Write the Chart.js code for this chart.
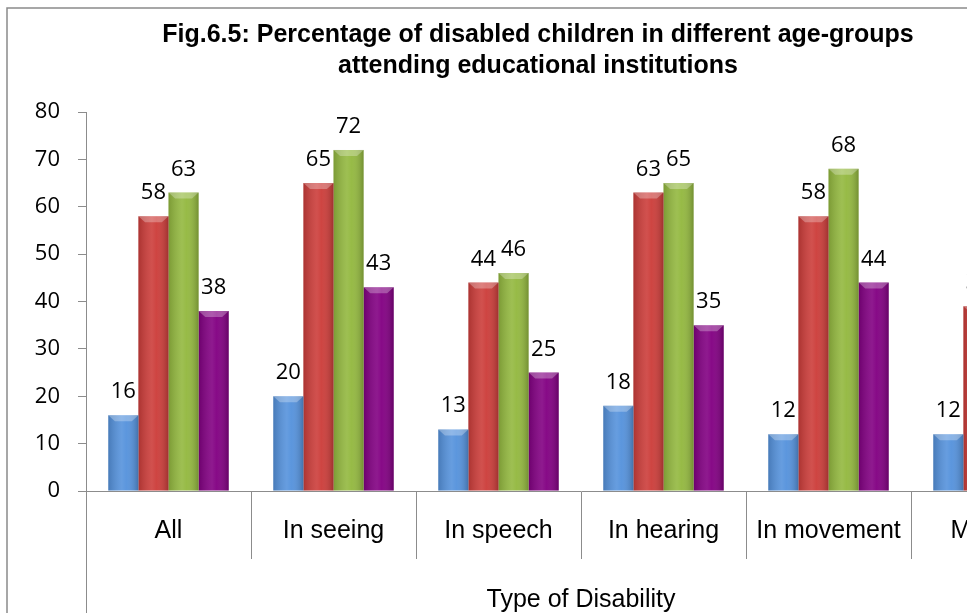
<!DOCTYPE html>
<html><head><meta charset="utf-8">
<script src="https://cdn.jsdelivr.net/npm/chart.js@4.4.1/dist/chart.umd.min.js"></script>
<style>
html,body{margin:0;padding:0;background:#fff;overflow:hidden;width:967px;height:613px}
#wrap{position:absolute;left:0;top:0;width:1080px;height:613px}
</style>
</head><body><div id="wrap"><canvas id="c" width="1080" height="613"></canvas></div>
<script>
// ---- data ----
const categories = ['All', 'In seeing', 'In speech', 'In hearing', 'In movement', 'Multiple'];
const ageGroups = ['0-4 years', '5-9 years', '10-14 years', '15-19 years'];
const age0to4   = [16, 20, 13, 18, 12, 12];
const age5to9   = [58, 65, 44, 63, 58, 39];
const age10to14 = [63, 72, 46, 65, 68, null];
const age15to19 = [38, 43, 25, 35, 44, null];
const yTickValues = [0, 10, 20, 30, 40, 50, 60, 70, 80];
const titleLines = ['Fig.6.5: Percentage of disabled children in different age-groups', 'attending educational institutions'];
const xAxisTitle = 'Type of Disability';

const seriesValues = [age0to4, age5to9, age10to14, age15to19];
const barColors = ['#5592dc', '#cc3d3a', '#93b83f', '#820082'];
const AXIS = '#8c8c8c';

const framePlugin = {
  id: 'frame',
  beforeDraw(chart) {
    const c = chart.ctx;
    c.save();
    c.strokeStyle = '#8a8a8a';
    c.lineWidth = 1.5;
    c.beginPath();
    c.moveTo(7, chart.height);
    c.lineTo(7, 8);
    c.lineTo(chart.width, 8);
    c.stroke();
    c.restore();
  },
  afterDraw(chart) {
    const c = chart.ctx, a = chart.chartArea;
    c.save();
    c.strokeStyle = AXIS;
    c.lineWidth = 1;
    const x = Math.round(a.left) + 0.5;
    c.beginPath();
    c.moveTo(x, a.bottom);
    c.lineTo(x, chart.height);
    c.stroke();
    c.restore();
  }
};

const barStylePlugin = {
  id: 'barStyle',
  afterDatasetsDraw(chart) {
    const c = chart.ctx;
    c.save();
    chart.data.datasets.forEach((ds, di) => {
      const meta = chart.getDatasetMeta(di);
      meta.data.forEach((bar, i) => {
        if (ds.data[i] == null) return;
        const w = bar.width, l = bar.x - w / 2, r = bar.x + w / 2;
        const top = bar.y, bot = bar.base;
        const g = c.createLinearGradient(l, 0, r, 0);
        g.addColorStop(0, 'rgba(0,0,0,0.16)');
        g.addColorStop(0.45, 'rgba(255,255,255,0.10)');
        g.addColorStop(0.6, 'rgba(255,255,255,0.04)');
        g.addColorStop(1, 'rgba(0,0,0,0.22)');
        c.fillStyle = g;
        c.fillRect(l, top, w, bot - top);
        c.fillStyle = 'rgba(255,255,255,0.28)';
        c.beginPath();
        c.moveTo(l, top);
        c.lineTo(r, top);
        c.lineTo(r - w * 0.22, top + 6);
        c.lineTo(l + w * 0.22, top + 6);
        c.closePath();
        c.fill();
      });
    });
    c.restore();
  },
  afterDraw(chart) {
    const c = chart.ctx;
    c.save();
    c.font = '22px "Open Sans"';
    c.fillStyle = '#000';
    c.textAlign = 'center';
    c.textBaseline = 'alphabetic';
    chart.data.datasets.forEach((ds, di) => {
      const meta = chart.getDatasetMeta(di);
      meta.data.forEach((bar, i) => {
        const v = ds.data[i];
        if (v == null) return;
        c.fillText(String(v), bar.x, bar.y - 17);
      });
    });
    c.restore();
  }
};

new Chart(document.getElementById('c'), {
  type: 'bar',
  data: {
    labels: categories,
    datasets: seriesValues.map((vals, k) => ({
      label: ageGroups[k],
      data: vals,
      backgroundColor: barColors[k],
      borderWidth: 0,
      categoryPercentage: 0.73,
      barPercentage: 1.0
    }))
  },
  options: {
    responsive: false,
    animation: false,
    devicePixelRatio: 1,
    layout: { padding: { left: 0, right: 4, top: 0, bottom: 0 } },
    plugins: {
      legend: { display: false },
      tooltip: { enabled: false },
      title: {
        display: true,
        text: titleLines,
        color: '#000',
        font: { family: '"Liberation Sans", Arial, sans-serif', size: 25, weight: 'bold', lineHeight: 1.23 },
        padding: { top: 20, bottom: 30.5 }
      }
    },
    scales: {
      x: {
        grid: { offset: true, drawOnChartArea: false, drawTicks: true, tickLength: 68, color: AXIS, lineWidth: 1 },
        border: { display: true, color: AXIS, width: 1 },
        ticks: { color: '#000', font: { family: '"Liberation Sans", Arial, sans-serif', size: 25 }, padding: -43, maxRotation: 0, autoSkip: false },
        title: { display: true, text: xAxisTitle, color: '#000', font: { family: '"Liberation Sans", Arial, sans-serif', size: 25 }, padding: { top: 0, bottom: -2 } },
        afterFit(s) { s.height = 122; }
      },
      y: {
        min: 0, max: 80,
        afterBuildTicks(s) { s.ticks = yTickValues.map(v => ({ value: v })); },
        grid: { drawOnChartArea: false, drawTicks: true, tickLength: 8, color: AXIS },
        border: { display: true, color: AXIS, width: 1 },
        ticks: { color: '#000', font: { family: '"Open Sans", sans-serif', size: 22 }, padding: 18 },
        afterFit(s) { s.width = 86; }
      }
    }
  },
  plugins: [framePlugin, barStylePlugin]
});
</script>
</body></html>
